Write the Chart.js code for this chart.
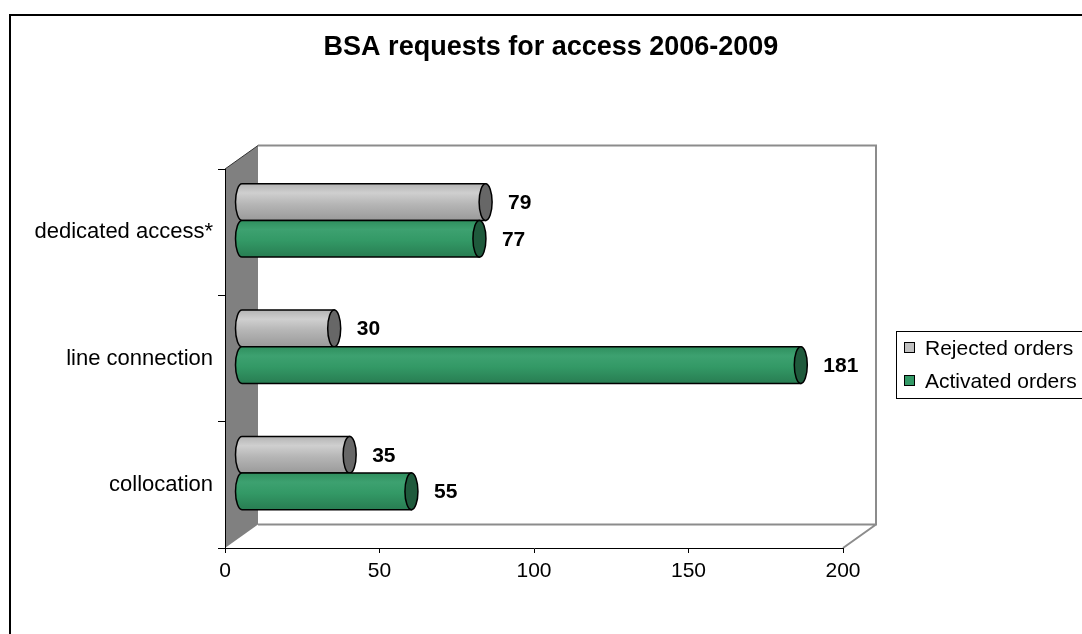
<!DOCTYPE html>
<html>
<head>
<meta charset="utf-8">
<title>BSA requests for access 2006-2009</title>
<script src="https://cdn.jsdelivr.net/npm/chart.js@4/dist/chart.umd.min.js"></script>
<style>
  html, body { margin: 0; padding: 0; background: #fff; }
</style>
</head>
<body>
<canvas id="bsaChart" width="1082" height="634"></canvas>
<script>
const categories = ["dedicated access*", "line connection", "collocation"];
const seriesNames = ["Rejected orders", "Activated orders"];
const rejectedOrders = [79, 30, 35];
const activatedOrders = [77, 181, 55];
const xTicks = [0, 50, 100, 150, 200];

const FONT = "'Liberation Sans', Arial, sans-serif";
const depthX = 33;     // how far the back wall sits right of the front axis
const depthY = -23.5;  // and how far up
const capRx = 6.5;     // half width of the cylinder end caps

const colours = [
  { top: "#b4b4b4", light: "#cfcfcf", mid: "#b6b6b6", bottom: "#9a9a9a", cap: "#676767", key: "#c0c0c0" },
  { top: "#2f8f5e", light: "#3da170", mid: "#339966", bottom: "#287d52", cap: "#1f5a3c", key: "#339966" }
];

function drawCylinder(ctx, x0, x1, cy, ry, col) {
  const top = cy - ry;
  const bot = cy + ry;
  const g = ctx.createLinearGradient(0, top, 0, bot);
  g.addColorStop(0, col.top);
  g.addColorStop(0.25, col.light);
  g.addColorStop(0.55, col.mid);
  g.addColorStop(1, col.bottom);

  ctx.beginPath();
  ctx.moveTo(x0, top);
  ctx.lineTo(x1, top);
  ctx.lineTo(x1, bot);
  ctx.lineTo(x0, bot);
  ctx.ellipse(x0, cy, capRx, ry, 0, Math.PI / 2, Math.PI * 1.5);
  ctx.closePath();
  ctx.fillStyle = g;
  ctx.fill();
  ctx.lineWidth = 1.5;
  ctx.strokeStyle = "#000";
  ctx.stroke();

  // end cap
  ctx.beginPath();
  ctx.ellipse(x1, cy, capRx, ry, 0, 0, Math.PI * 2);
  ctx.fillStyle = col.cap;
  ctx.fill();
  ctx.stroke();
}

// outer border, side wall, floor and back plane (drawn before the axes)
const frame3d = {
  id: "frame3d",
  beforeDraw(chart) {
    const ctx = chart.ctx;
    const a = chart.chartArea;
    ctx.save();
    ctx.fillStyle = "#fff";
    ctx.fillRect(0, 0, chart.width, chart.height);

    ctx.strokeStyle = "#000";
    ctx.lineWidth = 2;
    ctx.strokeRect(10, 15, chart.width + 20, chart.height + 20);

    // grey side wall
    ctx.beginPath();
    ctx.moveTo(a.left, a.top);
    ctx.lineTo(a.left + depthX, a.top + depthY);
    ctx.lineTo(a.left + depthX, a.bottom + depthY);
    ctx.lineTo(a.left, a.bottom);
    ctx.closePath();
    ctx.fillStyle = "#808080";
    ctx.fill();
    ctx.beginPath();
    ctx.moveTo(a.left, a.top);
    ctx.lineTo(a.left + depthX, a.top + depthY);
    ctx.strokeStyle = "#333";
    ctx.lineWidth = 1;
    ctx.stroke();

    // back plane and floor edges
    ctx.strokeStyle = "#8c8c8c";
    ctx.lineWidth = 2;
    ctx.beginPath();
    ctx.moveTo(a.left + depthX, a.top + depthY);
    ctx.lineTo(a.right + depthX, a.top + depthY);
    ctx.lineTo(a.right + depthX, a.bottom + depthY);
    ctx.lineTo(a.left + depthX, a.bottom + depthY);
    ctx.moveTo(a.right + depthX, a.bottom + depthY);
    ctx.lineTo(a.right, a.bottom);
    ctx.stroke();
    ctx.restore();
  }
};

const cylinders = {
  id: "cylinders",
  afterDatasetsDraw(chart) {
    const ctx = chart.ctx;
    ctx.save();
    chart.data.datasets.forEach((ds, i) => {
      const meta = chart.getDatasetMeta(i);
      meta.data.forEach((bar, j) => {
        const p = bar.getProps(["x", "y", "base", "height"], true);
        const cy = p.y + depthY / 2;
        const x0 = p.base + depthX / 2;
        const x1 = p.x + depthX / 2;
        drawCylinder(ctx, x0, x1, cy, p.height / 2, colours[i]);

        ctx.font = "bold 21px " + FONT;
        ctx.fillStyle = "#000";
        ctx.textAlign = "left";
        ctx.textBaseline = "middle";
        ctx.fillText(String(ds.data[j]), x1 + capRx + 16, cy + 1);
      });
    });
    ctx.restore();
  }
};

// title and legend box
const titleAndKey = {
  id: "titleAndKey",
  afterDraw(chart) {
    const ctx = chart.ctx;
    ctx.save();
    ctx.fillStyle = "#000";
    ctx.font = "bold 27px " + FONT;
    ctx.textAlign = "center";
    ctx.textBaseline = "middle";
    ctx.fillText("BSA requests for access 2006-2009", 551, 48);

    ctx.strokeStyle = "#000";
    ctx.lineWidth = 1;
    ctx.strokeRect(896.5, 331.5, 220, 67);
    ctx.font = "21px " + FONT;
    ctx.textAlign = "left";
    seriesNames.forEach((name, i) => {
      const y = 348 + i * 33;
      ctx.fillStyle = colours[i].key;
      ctx.fillRect(904.5, y - 5.5, 10, 10);
      ctx.strokeRect(904.5, y - 5.5, 10, 10);
      ctx.fillStyle = "#000";
      ctx.fillText(name, 925, y + 1);
    });
    ctx.restore();
  }
};

new Chart(document.getElementById("bsaChart"), {
  type: "bar",
  data: {
    labels: categories,
    datasets: [
      { label: seriesNames[0], data: rejectedOrders },
      { label: seriesNames[1], data: activatedOrders }
    ].map(ds => Object.assign(ds, {
      backgroundColor: "rgba(0,0,0,0)",
      borderWidth: 0,
      categoryPercentage: 0.58,
      barPercentage: 1.0
    }))
  },
  options: {
    indexAxis: "y",
    responsive: false,
    animation: false,
    devicePixelRatio: 1,
    layout: { padding: { left: 0, top: 169, right: 239, bottom: 46 } },
    plugins: {
      legend: { display: false },
      title: { display: false },
      tooltip: { enabled: false }
    },
    scales: {
      x: {
        min: xTicks[0],
        max: xTicks[xTicks.length - 1],
        afterBuildTicks: s => { s.ticks = xTicks.map(v => ({ value: v })); },
        afterFit: s => { s.height = 40; },
        grid: { drawOnChartArea: false, tickLength: 5, color: "#000" },
        border: { color: "#000", width: 1 },
        ticks: { color: "#000", padding: 6, font: { family: FONT, size: 21 } }
      },
      y: {
        afterFit: s => { s.width = 225; },
        grid: { drawOnChartArea: false, tickLength: 7, color: "#000" },
        border: { color: "#000", width: 1 },
        ticks: { color: "#000", padding: 5, font: { family: FONT, size: 22 } }
      }
    }
  },
  plugins: [frame3d, cylinders, titleAndKey]
});
</script>
</body>
</html>
